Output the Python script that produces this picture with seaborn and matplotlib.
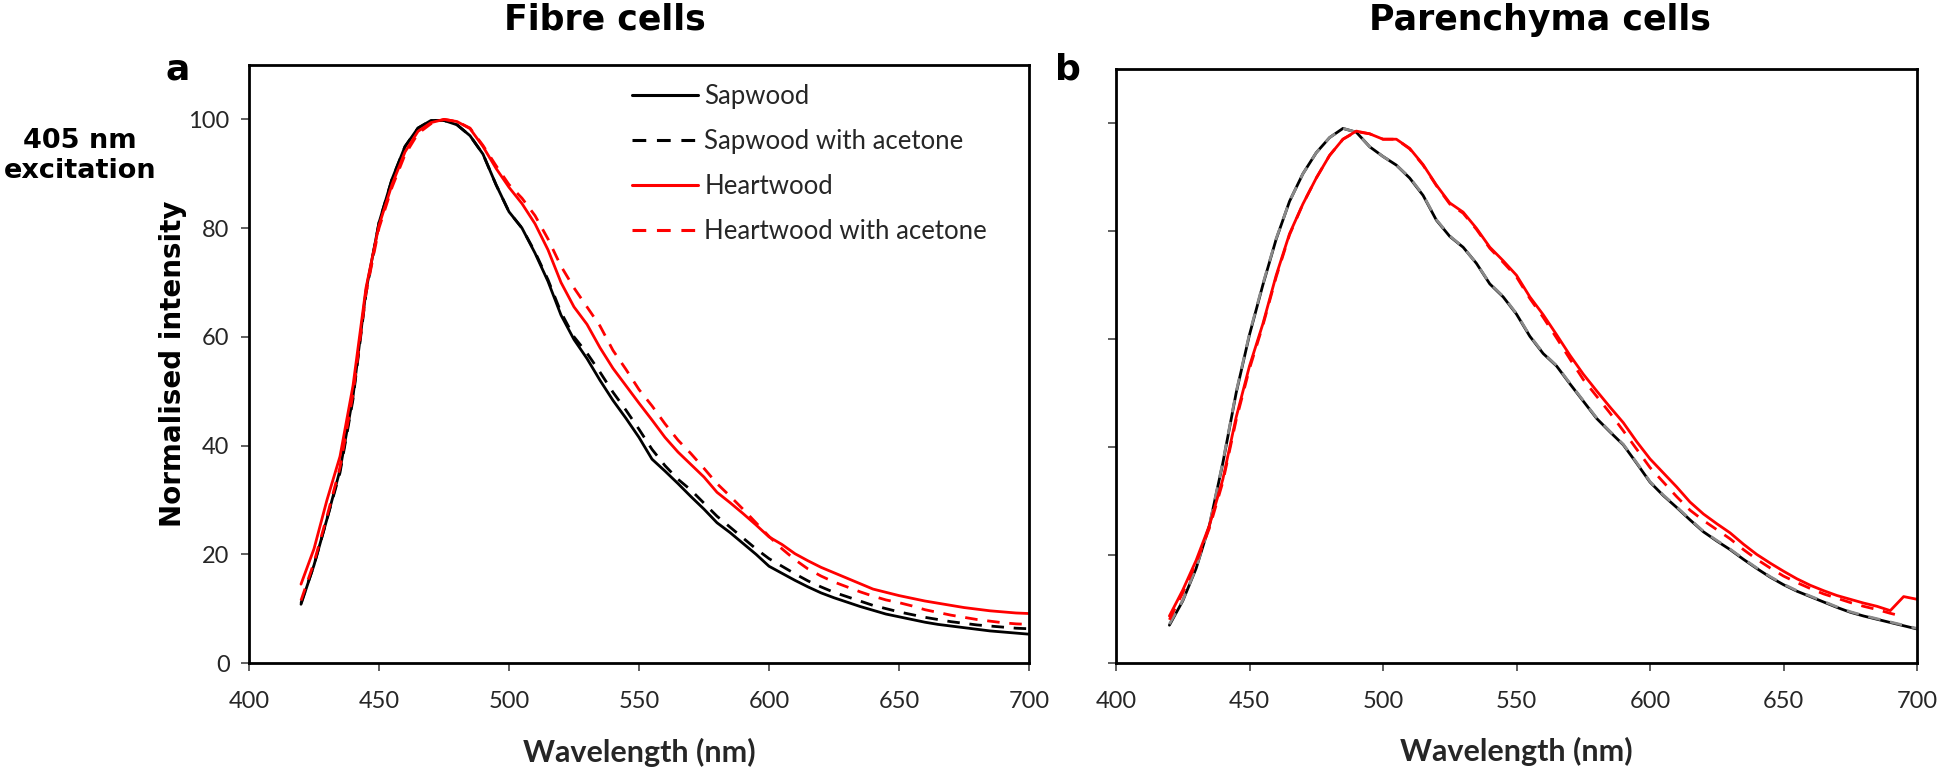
import numpy as np
import pandas as pd
import matplotlib
matplotlib.use("Agg")
import matplotlib.pyplot as plt
import seaborn as sns

# wavelength grid (nm) shared by all traces
wavelength = [420, 425, 430, 435, 440, 445, 450, 455, 460, 465, 470, 475, 480, 485,
              490, 495, 500, 505, 510, 515, 520, 525, 530, 535, 540, 545, 550, 555,
              560, 565, 570, 575, 580, 585, 590, 595, 600, 605, 610, 615, 620, 625,
              630, 635, 640, 645, 650, 655, 660, 665, 670, 675, 680, 685, 690, 695, 700]

# Fibre cells (panel a)
fibre_sapwood = [10.8, 18, 26.5, 35.5, 49, 68.5, 81, 89, 95, 98.4, 99.8, 99.8, 99, 97,
                 93.6, 88, 83, 80, 75.4, 70.2, 64, 59.5, 56, 52, 48.3, 45, 41.5, 37.5,
                 35.3, 33, 30.6, 28.3, 25.8, 24, 22, 20, 17.8, 16.5, 15.2, 14, 12.9, 12,
                 11.2, 10.4, 9.7, 9, 8.5, 8, 7.5, 7.1, 6.8, 6.5, 6.2, 5.9, 5.7, 5.5, 5.3]
fibre_sapwood_acetone = [11, 18, 26.5, 35, 48.5, 68, 81, 89, 95, 98.4, 99.8, 99.8, 99, 97,
                         93.6, 88, 83, 80, 75.6, 70.5, 64.5, 60, 57, 53.5, 49.8, 46.5, 43, 39.3,
                         36.3, 33.8, 31.8, 29.4, 27, 25, 23, 21, 19.2, 17.8, 16.4, 15.1, 14, 13,
                         12.2, 11.4, 10.6, 10, 9.4, 8.9, 8.4, 8, 7.6, 7.3, 7, 6.8, 6.6, 6.4, 6.3]
fibre_heartwood = [14.5, 21, 30, 38, 51, 69, 80.5, 88, 94, 97.8, 99.4, 100, 99.6, 98.3,
                   95, 91, 87.5, 84.5, 80.8, 76, 70, 65.5, 62.3, 58, 54.2, 51, 47.8, 44.7,
                   41.5, 38.8, 36.5, 34.2, 31.4, 29.5, 27.5, 25.4, 23.2, 21.8, 20.1, 18.8, 17.6, 16.6,
                   15.6, 14.6, 13.6, 13, 12.4, 11.9, 11.4, 11, 10.6, 10.2, 9.9, 9.6, 9.4, 9.2, 9.1]
fibre_heartwood_acetone = [11.5, 18.5, 27, 36, 49.5, 68, 80, 87.5, 93.5, 97.4, 99.2, 100, 99.6, 98.4,
                           95.2, 91.5, 88, 85.5, 82.3, 78, 73, 69, 65.5, 62, 57.5, 54, 50.3, 47.3,
                           44, 41, 38.5, 35.8, 33, 30.7, 28.3, 25.8, 23.3, 21, 19, 17.3, 16, 14.9,
                           14, 13.1, 12.3, 11.6, 11.1, 10.5, 9.8, 9.3, 8.8, 8.4, 8, 7.7, 7.4, 7.2, 7.1]

# Parenchyma cells (panel b)
par_sapwood = [7, 11.5, 17.5, 25.5, 37, 50, 60.8, 70, 78.5, 85.5, 90.6, 94.5, 97.3, 99,
               98.3, 95.6, 93.8, 92.2, 89.8, 86.6, 82, 79, 77, 74, 70.2, 67.8, 64.6, 60.5,
               57.3, 55, 51.7, 48.5, 45.3, 42.8, 40.4, 37, 33.5, 31, 28.8, 26.5, 24.3, 22.6,
               21, 19.2, 17.5, 15.9, 14.5, 13.3, 12.3, 11.3, 10.3, 9.4, 8.7, 8.1, 7.5, 6.9, 6.3]
par_sapwood_acetone = [7.2, 11.6, 17.6, 25.6, 37.2, 50.2, 61, 70.2, 78.6, 85.5, 90.6, 94.5, 97.3, 99,
                       98.3, 95.6, 93.8, 92.2, 89.9, 86.7, 82.1, 79.1, 77, 74, 70.3, 67.9, 64.7, 60.6,
                       57.4, 55.1, 51.8, 48.6, 45.4, 42.9, 40.5, 37.1, 33.6, 31.1, 28.9, 26.6, 24.4, 22.7,
                       21.1, 19.3, 17.6, 16, 14.6, 13.4, 12.4, 11.4, 10.4, 9.5, 8.8, 8.2, 7.6, 7, 6.4]
par_heartwood = [8.7, 13.5, 19, 25.5, 34, 45.5, 55, 62.8, 71.8, 79.5, 85, 89.8, 94, 97,
                 98.5, 98, 97, 97, 95.3, 92.3, 88.5, 85.2, 83.5, 80.5, 77, 74.5, 71.8, 67.8,
                 64.5, 60.8, 57, 53.5, 50.4, 47.4, 44.5, 41, 37.8, 35.2, 32.6, 29.8, 27.6, 25.8,
                 24.1, 22, 20.1, 18.5, 17, 15.6, 14.4, 13.4, 12.5, 11.8, 11.1, 10.5, 9.7, 12.3, 11.8]
par_heartwood_acetone = [8, 13, 18.5, 25, 33.5, 45, 54.5, 62.5, 71.5, 79.3, 85, 89.8, 94, 97,
                         98.4, 98, 97, 97, 95.2, 92.2, 88.4, 85, 83.3, 80.3, 76.8, 74.2, 71.5, 67.5,
                         64, 60.2, 56.3, 52.5, 49.4, 46.3, 43, 39.6, 36.2, 33.5, 30.8, 28.3, 26.4, 24.7,
                         23, 21, 19.2, 17.6, 16.1, 14.9, 13.8, 12.8, 12, 11.2, 10.5, 9.9, 9.2, 8.6, np.nan]

series_names = ["Sapwood", "Sapwood with acetone", "Heartwood", "Heartwood with acetone"]
x_ticks = [400, 450, 500, 550, 600, 650, 700]
y_ticks = [0, 20, 40, 60, 80, 100]

sns.set_style("ticks")
plt.rcParams['font.family'] = ['Lato', 'DejaVu Sans']

W, H = 1946, 776
fig = plt.figure(figsize=(W / 100, H / 100), dpi=100)


def px_axes(x0, x1, y0, y1):
    return fig.add_axes([x0 / W, 1 - y1 / H, (x1 - x0) / W, (y1 - y0) / H])


ax_a = px_axes(249, 1029, 65, 663)
ax_b = px_axes(1116, 1917, 69, 663)

dash = (0, (4.5, 3.5))
styles = [
    dict(color="black", linestyle="-"),
    dict(color="black", linestyle=dash),
    dict(color="#ff0000", linestyle="-"),
    dict(color="#ff0000", linestyle=dash),
]

fibre = [fibre_sapwood, fibre_sapwood_acetone, fibre_heartwood, fibre_heartwood_acetone]
par = [par_sapwood, par_sapwood_acetone, par_heartwood, par_heartwood_acetone]

for name, vals, st in zip(series_names, fibre, styles):
    df = pd.DataFrame({"wl": wavelength, "y": vals}).dropna()
    sns.lineplot(data=df, x="wl", y="y", ax=ax_a, label=name, errorbar=None,
                 lw=2.0, **st)

# panel b: sapwood pair nearly coincide, acetone trace shows as grey dashes
par_styles = [
    dict(color="black", linestyle="-"),
    dict(color="#8a8a8a", linestyle=dash),
    dict(color="#ff0000", linestyle="-"),
    dict(color="#ff0000", linestyle=dash),
]
for name, vals, st in zip(series_names, par, par_styles):
    df = pd.DataFrame({"wl": wavelength, "y": vals}).dropna()
    sns.lineplot(data=df, x="wl", y="y", ax=ax_b, errorbar=None, lw=2.0, **st)

for ax in (ax_a, ax_b):
    ax.set_xlim(400, 700)
    ax.set_ylim(0, 110)
    ax.set_xticks(x_ticks)
    ax.set_yticks(y_ticks)
    ax.tick_params(axis="both", direction="out", length=6, width=1.2, labelsize=17,
                   color="#444444")
    ax.tick_params(axis="x", pad=14)
    ax.tick_params(axis="y", pad=8)
    for sp in ax.spines.values():
        sp.set_visible(True)
        sp.set_linewidth(2.0)
        sp.set_color("black")
    ax.set_ylabel("")
    ax.set_xlabel("Wavelength (nm)", fontsize=22, fontweight="bold")
    ax.xaxis.set_label_coords(0.5, -0.125)

ax_b.set_yticklabels([])

leg = ax_a.legend(loc="upper left", bbox_to_anchor=(0.491, 0.969), frameon=False,
                  fontsize=18.5, handlelength=2.57, handletextpad=0.25,
                  labelspacing=0.78, borderpad=0, borderaxespad=0)
for line in leg.get_lines():
    line.set_linewidth(2.2)

bold = dict(family=["DejaVu Sans"], fontweight="bold", color="black")
fig.text(605 / W, 1 - 20 / H, "Fibre cells", ha="center", va="center", fontsize=25, **bold)
fig.text(1540 / W, 1 - 20 / H, "Parenchyma cells", ha="center", va="center", fontsize=25, **bold)
fig.text(178 / W, 1 - 79 / H, "a", ha="center", va="baseline", fontsize=26, **bold)
fig.text(1068 / W, 1 - 79 / H, "b", ha="center", va="baseline", fontsize=26, **bold)
fig.text(80 / W, 1 - 156 / H, "405 nm\nexcitation", ha="center", va="center",
         fontsize=19.5, linespacing=1.25, **bold)
fig.text(173 / W, 1 - 364 / H, "Normalised intensity", ha="center", va="center",
         rotation=90, fontsize=20, **bold)

fig.savefig("out.png", dpi=100)
